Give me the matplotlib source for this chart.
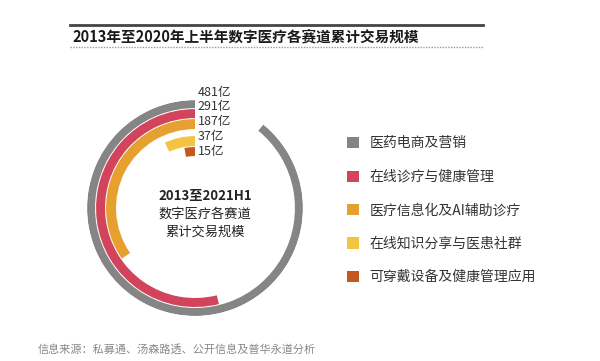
import numpy as np
import matplotlib.pyplot as plt
from matplotlib.lines import Line2D

plt.rcParams['font.family'] = ['Noto Sans CJK SC', 'DejaVu Sans']

# 数据
categories = ['医药电商及营销', '在线诊疗与健康管理', '医疗信息化及AI辅助诊疗',
              '在线知识分享与医患社群', '可穿戴设备及健康管理应用']
values = [481, 291, 187, 37, 15]
value_labels = ['481亿', '291亿', '187亿', '37亿', '15亿']

# 样式
colors = ['#858585', '#d2445c', '#e6a030', '#f3c343', '#c4581e']
ring_r = [104, 94.5, 84, 67, 56.5]      # 每个环的中心半径
ring_h = [8, 9, 10, 10, 9]
label_r = [116, 102, 87, 72, 57]
full_scale = 540  # 一整圈对应的数值

fig = plt.figure(figsize=(6, 3.61), dpi=100)

ax = fig.add_axes([0.145, 0.1247, 0.36, 0.598], projection='polar')
ax.set_theta_zero_location('N')
ax.set_theta_direction(1)
ax.set_ylim(0, 108)
ax.axis('off')

theta = np.array(values) / full_scale * 2 * np.pi
bars = ax.barh(ring_r, theta, left=0, height=ring_h, color=colors, linewidth=0)

for r, txt in zip(label_r, value_labels):
    ax.annotate(txt, (0, r), xytext=(2, 0), textcoords='offset points',
                ha='left', va='center', fontsize=9, color='#333333',
                annotation_clip=False)

# 中心文字
fig.text(0.342, 0.458, '2013至2021H1', ha='center', va='center', fontsize=9.5,
         fontweight='bold', color='#222222')
fig.text(0.342, 0.408, '数字医疗各赛道', ha='center', va='center', fontsize=9.5,
         color='#222222')
fig.text(0.342, 0.356, '累计交易规模', ha='center', va='center', fontsize=9.5,
         color='#222222')

# 标题和线
fig.add_artist(Line2D([0.117, 0.805], [0.932, 0.932], color='#444444', lw=2))
fig.add_artist(Line2D([0.117, 0.805], [0.870, 0.870], color='#999999', lw=1,
                      linestyle=(0, (1, 1))))
fig.text(0.12, 0.900, '2013年至2020年上半年数字医疗各赛道累计交易规模',
         ha='left', va='center', fontsize=10.5, fontweight='bold', color='#1a1a1a')

# 图例
fig.legend(bars, categories, loc='upper left', bbox_to_anchor=(0.578, 0.622),
           frameon=False, fontsize=10, handlelength=0.85, handleheight=0.85,
           handletextpad=0.8, labelspacing=1.4, borderpad=0, borderaxespad=0,
           labelcolor='#333333')

fig.text(0.062, 0.033, '信息来源：私募通、汤森路透、公开信息及普华永道分析',
         ha='left', va='center', fontsize=8, color='#888888')

plt.savefig('out.png', dpi=100)
